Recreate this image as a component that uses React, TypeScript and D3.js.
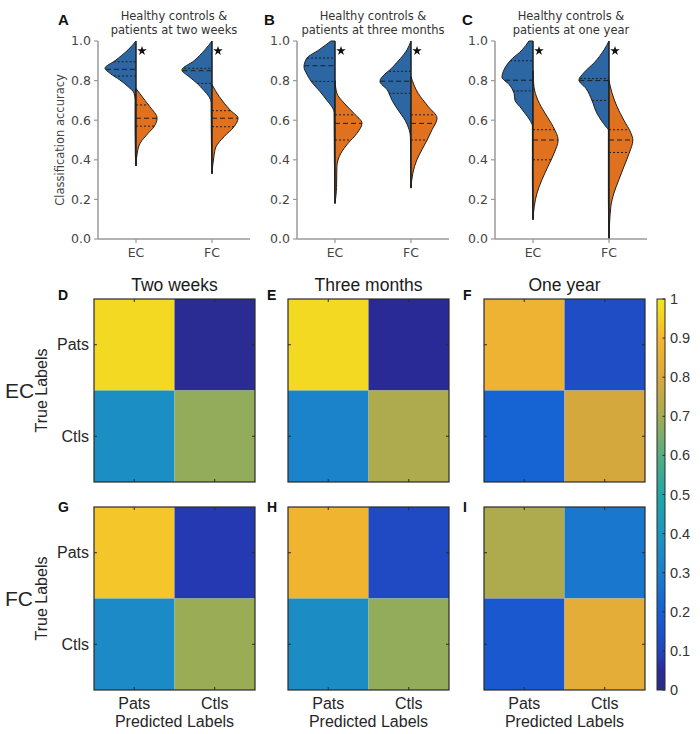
import * as d3 from 'd3';

// ---- top row: classification accuracy violins ----
const periodTitles = [
  ['Healthy controls &', 'patients at two weeks'],
  ['Healthy controls &', 'patients at three months'],
  ['Healthy controls &', 'patients at one year'],
];
const topLetters = ['A', 'B', 'C'];
const measures = ['EC', 'FC'];
const accTicks = [0, 0.2, 0.4, 0.6, 0.8, 1.0];

// violin outlines: [accuracy, relative density]
const blueEC_A = [[1.0, 0], [0.955, 0.26], [0.9, 0.68], [0.862, 1.0], [0.837, 0.84], [0.803, 0.52], [0.77, 0.26], [0.736, 0.06], [0.7, 0.03], [0.55, 0.03], [0.42, 0.02], [0.37, 0]];
const orangeEC_A = [[0.76, 0], [0.7, 0.29], [0.668, 0.45], [0.61, 0.68], [0.567, 0.58], [0.534, 0.39], [0.483, 0.13], [0.434, 0.04], [0.37, 0]];
const blueFC_A = [[1.0, 0], [0.955, 0.23], [0.9, 0.58], [0.853, 0.97], [0.82, 0.74], [0.786, 0.48], [0.75, 0.26], [0.72, 0.1], [0.69, 0.03], [0.5, 0.02], [0.33, 0]];
const orangeFC_A = [[0.78, 0], [0.72, 0.23], [0.652, 0.58], [0.61, 0.84], [0.567, 0.71], [0.517, 0.39], [0.466, 0.13], [0.415, 0.06], [0.33, 0]];

const blueEC_B = [[1.0, 0.13], [0.955, 0.52], [0.915, 0.9], [0.87, 1.0], [0.83, 0.9], [0.79, 0.74], [0.744, 0.48], [0.7, 0.26], [0.668, 0.1], [0.64, 0.03], [0.4, 0.02], [0.18, 0]];
const orangeEC_B = [[0.8, 0], [0.736, 0.06], [0.687, 0.29], [0.635, 0.61], [0.584, 0.87], [0.534, 0.71], [0.483, 0.42], [0.433, 0.19], [0.365, 0.06], [0.26, 0.05], [0.18, 0]];
const blueFC_B = [[1.0, 0], [0.955, 0.13], [0.87, 0.58], [0.796, 1.0], [0.754, 0.77], [0.7, 0.61], [0.652, 0.42], [0.6, 0.19], [0.552, 0.06], [0.52, 0.02], [0.26, 0]];
const orangeFC_B = [[0.82, 0], [0.736, 0.23], [0.67, 0.55], [0.61, 0.84], [0.552, 0.68], [0.5, 0.52], [0.45, 0.35], [0.4, 0.19], [0.333, 0.06], [0.257, 0]];

const blueEC_C = [[1.0, 0.13], [0.955, 0.35], [0.9, 0.74], [0.853, 0.94], [0.818, 1.0], [0.78, 0.77], [0.736, 0.61], [0.7, 0.58], [0.668, 0.42], [0.635, 0.26], [0.6, 0.1], [0.57, 0.02], [0.3, 0.02], [0.1, 0]];
const orangeEC_C = [[0.85, 0], [0.77, 0.03], [0.7, 0.16], [0.635, 0.39], [0.567, 0.65], [0.5, 0.81], [0.433, 0.68], [0.365, 0.48], [0.3, 0.29], [0.232, 0.13], [0.164, 0.04], [0.097, 0]];
const blueFC_C = [[1.0, 0], [0.955, 0.16], [0.89, 0.48], [0.84, 0.81], [0.803, 0.97], [0.76, 0.74], [0.7, 0.55], [0.635, 0.39], [0.567, 0.1], [0.55, 0.02], [0.2, 0.02], [0.0, 0]];
const orangeFC_C = [[0.8, 0], [0.736, 0.1], [0.668, 0.26], [0.6, 0.48], [0.534, 0.71], [0.5, 0.77], [0.433, 0.65], [0.365, 0.48], [0.3, 0.32], [0.232, 0.16], [0.164, 0.06], [0.0, 0]];

// quartiles [q1, median, q3]
const blueQ = [
  [[0.823, 0.857, 0.895], [0.786, 0.85, 0.862]],
  [[0.796, 0.875, 0.914], [0.736, 0.797, 0.847]],
  [[0.748, 0.802, 0.9], [0.7, 0.8, 0.81]],
];
const orangeQ = [
  [[0.57, 0.61, 0.677], [0.567, 0.61, 0.648]],
  [[0.5, 0.584, 0.627], [0.5, 0.584, 0.627]],
  [[0.4, 0.5, 0.552], [0.437, 0.5, 0.552]],
];
const blueShapes = [[blueEC_A, blueFC_A], [blueEC_B, blueFC_B], [blueEC_C, blueFC_C]];
const orangeShapes = [[orangeEC_A, orangeFC_A], [orangeEC_B, orangeFC_B], [orangeEC_C, orangeFC_C]];
const starLevel = 0.95;

// ---- confusion matrices ----
const classes = ['Pats', 'Ctls'];
const heatTitles = ['Two weeks', 'Three months', 'One year'];
const heatLetters = [['D', 'E', 'F'], ['G', 'H', 'I']];
const rowNames = ['EC', 'FC'];
const ecTwoWeeks = [[0.97, 0.03], [0.37, 0.68]];
const ecThreeMonths = [[0.97, 0.04], [0.32, 0.72]];
const ecOneYear = [[0.87, 0.13], [0.21, 0.79]];
const fcTwoWeeks = [[0.93, 0.08], [0.35, 0.69]];
const fcThreeMonths = [[0.88, 0.12], [0.36, 0.68]];
const fcOneYear = [[0.72, 0.28], [0.17, 0.83]];
const matrices = [[ecTwoWeeks, ecThreeMonths, ecOneYear], [fcTwoWeeks, fcThreeMonths, fcOneYear]];
const cbarTicks = [0, 0.1, 0.2, 0.3, 0.4, 0.5, 0.6, 0.7, 0.8, 0.9, 1];
const cmapStops = [0, 0.05, 0.1, 0.2, 0.3, 0.4, 0.5, 0.6, 0.7, 0.8, 0.9, 1];
const cmapColors = ['#2b2c85', '#2a2a9c', '#2145c0', '#1660d4', '#1a7ecb', '#1c96c0', '#20a7a6', '#54ae82', '#a3ac52', '#dba83c', '#f6b72e', '#f1e81c'];

const BLUE = '#2c67a3';
const ORANGE = '#e0711f';
const sansTop = 'DejaVu Sans, sans-serif';
const sansBot = 'Liberation Sans, Arial, sans-serif';

function widthAt(pts: number[][], v: number) {
  for (let i = 0; i < pts.length - 1; i++) {
    const [a, wa] = pts[i];
    const [b, wb] = pts[i + 1];
    if (v <= a && v >= b) return wa + ((a - v) / (a - b)) * (wb - wa);
  }
  return 0;
}

function ViolinPanel({ idx }: { idx: number }) {
  const left = [98, 297, 495][idx];
  const axW = 152;
  const y = d3.scaleLinear().domain([0, 1]).range([239, 41]);
  const x = d3.scaleBand().domain(measures).range([left, left + axW]);
  const w = d3.scaleLinear().domain([0, 1]).range([0, 31]);
  const star = d3.symbol().type(d3.symbolStar).size(28)();

  return (
    <g>
      <text x={topLetters[idx] === 'A' ? 58 : left - 33} y={25} fontFamily={sansBot} fontWeight="bold" fontSize={15} fill="#111">
        {topLetters[idx]}
      </text>
      <text x={left + axW / 2} y={20} textAnchor="middle" fontFamily={sansTop} fontSize={11.5} fill="#333">
        {periodTitles[idx][0]}
      </text>
      <text x={left + axW / 2} y={34} textAnchor="middle" fontFamily={sansTop} fontSize={11.5} fill="#333">
        {periodTitles[idx][1]}
      </text>
      {measures.map((m, j) => {
        const cx = (x(m) as number) + x.bandwidth() / 2;
        const blue = blueShapes[idx][j];
        const orange = orangeShapes[idx][j];
        const leftArea = d3.area<number[]>().y((d) => y(d[0])).x0(cx).x1((d) => cx - w(d[1])).curve(d3.curveMonotoneY);
        const rightArea = d3.area<number[]>().y((d) => y(d[0])).x0(cx).x1((d) => cx + w(d[1])).curve(d3.curveMonotoneY);
        return (
          <g key={m}>
            <path d={leftArea(blue) || ''} fill={BLUE} stroke="#1e1e1e" strokeWidth={1} strokeLinejoin="round" />
            <path d={rightArea(orange) || ''} fill={ORANGE} stroke="#1e1e1e" strokeWidth={1} strokeLinejoin="round" />
            {blueQ[idx][j].map((q, k) => (
              <line key={'b' + k} x1={cx - w(widthAt(blue, q))} x2={cx} y1={y(q)} y2={y(q)} stroke="#1e1e1e" strokeWidth={1}
                strokeDasharray={k === 1 ? '5,3' : '2,2'} />
            ))}
            {orangeQ[idx][j].map((q, k) => (
              <line key={'o' + k} x1={cx} x2={cx + w(widthAt(orange, q))} y1={y(q)} y2={y(q)} stroke="#1e1e1e" strokeWidth={1}
                strokeDasharray={k === 1 ? '5,3' : '2,2'} />
            ))}
            <line x1={cx} x2={cx} y1={y(1)} y2={y(Math.min(blue[blue.length - 1][0], orange[orange.length - 1][0]))} stroke="#1e1e1e" strokeWidth={1} />
            <path d={star || ''} transform={`translate(${cx + 6},${y(starLevel)})`} fill="#111" />
          </g>
        );
      })}
      {/* axes */}
      <line x1={left} x2={left} y1={y(0)} y2={y(1)} stroke="#9a9a9a" strokeWidth={1.5} />
      <line x1={left} x2={left + axW} y1={y(0)} y2={y(0)} stroke="#9a9a9a" strokeWidth={1.5} />
      {accTicks.map((t) => (
        <g key={t}>
          <line x1={left - 4} x2={left} y1={y(t)} y2={y(t)} stroke="#9a9a9a" strokeWidth={1.2} />
          <text x={left - 7} y={y(t)} dy="0.35em" textAnchor="end" fontFamily={sansTop} fontSize={12.5} fill="#444">
            {t.toFixed(1)}
          </text>
        </g>
      ))}
      {measures.map((m) => {
        const cx = (x(m) as number) + x.bandwidth() / 2;
        return (
          <g key={m}>
            <line x1={cx} x2={cx} y1={y(0)} y2={y(0) + 4} stroke="#9a9a9a" strokeWidth={1.2} />
            <text x={cx} y={y(0) + 14} dy="0.35em" textAnchor="middle" fontFamily={sansTop} fontSize={12.5} fill="#444">
              {m}
            </text>
          </g>
        );
      })}
      {idx === 0 && (
        <text transform={`translate(64,140) rotate(-90)`} textAnchor="middle" fontFamily={sansTop} fontSize={11.5} fill="#444">
          Classification accuracy
        </text>
      )}
    </g>
  );
}

function Heatmap({ row, col }: { row: number; col: number }) {
  const left = [94, 288, 484][col];
  const top = [299, 507][row];
  const size = [161, 183];
  const xs = d3.scaleBand().domain(classes).range([left, left + size[0]]);
  const ys = d3.scaleBand().domain(classes).range([top, top + size[1]]);
  const color = d3.scaleLinear<string>().domain(cmapStops).range(cmapColors);
  const mat = matrices[row][col];
  return (
    <g>
      {classes.map((tr, i) =>
        classes.map((pr, j) => (
          <rect key={tr + pr} x={xs(pr)} y={ys(tr)} width={xs.bandwidth()} height={ys.bandwidth()} fill={color(mat[i][j])} />
        ))
      )}
      <rect x={left} y={top} width={size[0]} height={size[1]} fill="none" stroke="#2a2a2a" strokeWidth={1.2} />
      {classes.map((c) => {
        const cx = (xs(c) as number) + xs.bandwidth() / 2;
        const cy = (ys(c) as number) + ys.bandwidth() / 2;
        return (
          <g key={c} stroke="#2a2a2a" strokeWidth={1}>
            <line x1={cx} x2={cx} y1={top} y2={top + 3} />
            <line x1={cx} x2={cx} y1={top + size[1]} y2={top + size[1] - 3} />
            <line x1={left} x2={left + 3} y1={cy} y2={cy} />
            <line x1={left + size[0]} x2={left + size[0] - 3} y1={cy} y2={cy} />
          </g>
        );
      })}
      <text x={col === 0 ? 58 : left - 21} y={top + (row === 0 ? 1 : 5)} fontFamily={sansBot} fontWeight="bold" fontSize={14} fill="#111">
        {heatLetters[row][col]}
      </text>
      {row === 0 && (
        <text x={left + size[0] / 2} y={top - 8} textAnchor="middle" fontFamily={sansBot} fontSize={17.5} fill="#1a1a1a">
          {heatTitles[col]}
        </text>
      )}
      {col === 0 && (
        <g fontFamily={sansBot} fill="#262626">
          {classes.map((c) => (
            <text key={c} x={left - 5} y={(ys(c) as number) + ys.bandwidth() / 2} dy="0.35em" textAnchor="end" fontSize={16}>
              {c}
            </text>
          ))}
          <text transform={`translate(47,${top + size[1] / 2}) rotate(-90)`} textAnchor="middle" fontSize={16}>
            True Labels
          </text>
          <text x={5} y={top + size[1] / 2} dy="0.35em" fontSize={21}>
            {rowNames[row]}
          </text>
        </g>
      )}
      {row === 1 && (
        <g fontFamily={sansBot} fill="#262626" fontSize={16}>
          {classes.map((c) => (
            <text key={c} x={(xs(c) as number) + xs.bandwidth() / 2} y={top + size[1] + 19} textAnchor="middle">
              {c}
            </text>
          ))}
          <text x={left + size[0] / 2} y={top + size[1] + 37} textAnchor="middle">
            Predicted Labels
          </text>
        </g>
      )}
    </g>
  );
}

function Colorbar() {
  const x0 = 657;
  const cw = 8;
  const cy = d3.scaleLinear().domain([0, 1]).range([690, 299]);
  return (
    <g>
      <defs>
        <linearGradient id="parula" x1="0" y1="1" x2="0" y2="0">
          {cmapStops.map((s, i) => (
            <stop key={s} offset={s} stopColor={cmapColors[i]} />
          ))}
        </linearGradient>
      </defs>
      <rect x={x0} y={cy(1)} width={cw} height={cy(0) - cy(1)} fill="url(#parula)" stroke="#2a2a2a" strokeWidth={1} />
      {cbarTicks.map((t) => (
        <g key={t}>
          <line x1={x0 + cw} x2={x0 + cw - 2.5} y1={cy(t)} y2={cy(t)} stroke="#2a2a2a" strokeWidth={1} />
          <text x={x0 + cw + 5} y={cy(t)} dy="0.35em" fontFamily={sansBot} fontSize={14.5} fill="#333">
            {t}
          </text>
        </g>
      ))}
    </g>
  );
}

export default function App() {
  return (
    <svg width={700} height={734} style={{ position: 'absolute', left: 0, top: 0, background: '#fff' }}>
      {[0, 1, 2].map((i) => (
        <ViolinPanel key={i} idx={i} />
      ))}
      {[0, 1].map((r) => [0, 1, 2].map((c) => <Heatmap key={r + '-' + c} row={r} col={c} />))}
      <Colorbar />
    </svg>
  );
}
